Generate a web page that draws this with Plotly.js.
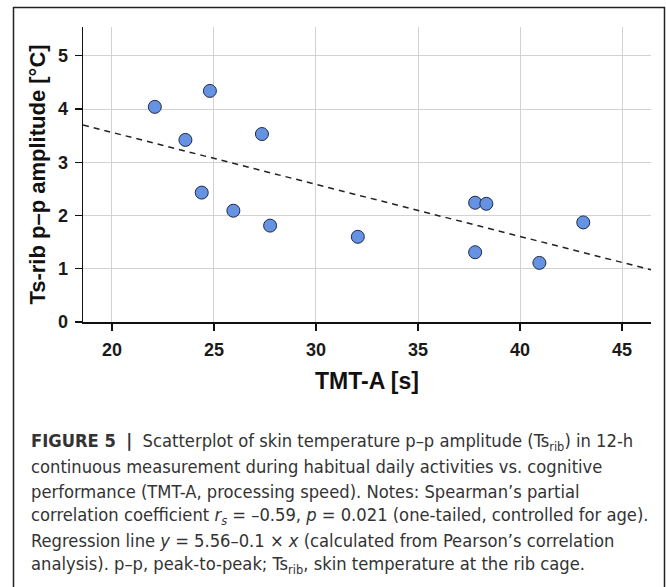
<!DOCTYPE html>
<html>
<head>
<meta charset="utf-8">
<script src="https://cdn.plot.ly/plotly-3.0.1.min.js"></script>
<style>
  html, body { margin: 0; padding: 0; background: #fff; }
  #chart { width: 666px; height: 587px; }
</style>
</head>
<body>
<div id="chart"></div>
<script>
// ---- data ----
const tmtA = [22.1, 24.8, 23.6, 27.35, 24.4, 25.95, 27.75, 32.05, 37.8, 38.35, 37.8, 40.95, 43.1];
const tsRibAmp = [4.04, 4.34, 3.42, 3.53, 2.43, 2.09, 1.81, 1.60, 2.24, 2.22, 1.31, 1.11, 1.87];
const regX = [18.58, 46.42];
const regY = [3.70, 0.98];
const xTicks = [20, 25, 30, 35, 40, 45];
const yTicks = [0, 1, 2, 3, 4, 5];
const xTitle = 'TMT-A [s]';
const yTitle = 'Ts-rib p\u2013p amplitude [\u00b0C]';
const captionLines = [
  '<b>FIGURE 5</b>  <b>|</b>  Scatterplot of skin temperature p\u2013p amplitude (Ts<sub>rib</sub>) in 12-h',
  'continuous measurement during habitual daily activities vs. cognitive',
  'performance (TMT-A, processing speed). Notes: Spearman\u2019s partial',
  'correlation coefficient <i>r<sub>s</sub></i> = \u20130.59, <i>p</i> = 0.021 (one-tailed, controlled for age).',
  'Regression line <i>y</i> = 5.56\u20130.1 \u00d7 <i>x</i> (calculated from Pearson\u2019s correlation',
  'analysis). p\u2013p, peak-to-peak; Ts<sub>rib</sub>, skin temperature at the rib cage.'
];

// ---- layout geometry (pixels) ----
const W = 666, H = 587;
const L = 83, R = 651, T = 27, B = 322;
const px2x = p => (p - L) / (R - L);
const px2y = p => (B - p) / (B - T);

const captionY = [442, 466.5, 491, 515.5, 540, 564.5];
const capFont = { family: 'DejaVu Sans Condensed, Liberation Sans Narrow, sans-serif', size: 18.2, color: '#333' };

const annotations = captionLines.map((t, i) => ({
  text: t, xref: 'paper', yref: 'paper', x: px2x(29), y: px2y(captionY[i]),
  xanchor: 'left', yanchor: 'middle', showarrow: false, align: 'left', font: capFont
}));

const traces = [
  {
    x: regX, y: regY, type: 'scatter', mode: 'lines',
    line: { color: '#222', width: 1.5, dash: '6px,5px' },
    hoverinfo: 'skip', showlegend: false
  },
  {
    x: tmtA, y: tsRibAmp, type: 'scatter', mode: 'markers',
    marker: { size: 13, color: '#6592e3', line: { color: '#1f2a44', width: 1 } },
    showlegend: false
  }
];

const tickFont = { family: 'Liberation Sans, Arial, sans-serif', size: 18, color: '#1a1a1a' };

const layout = {
  width: W, height: H,
  margin: { l: L, r: W - R, t: T, b: H - B },
  paper_bgcolor: '#fff', plot_bgcolor: '#fff',
  xaxis: {
    range: [18.58, 46.42], tickvals: xTicks, ticktext: xTicks.map(v => '<b>' + v + '</b>'),
    showgrid: true, gridcolor: '#d2d2d2', gridwidth: 1,
    showline: true, linecolor: '#111', linewidth: 1.5,
    ticks: 'outside', ticklen: 7, tickcolor: '#111', tickwidth: 1.2,
    ticklabelstandoff: 4,
    zeroline: false, tickfont: tickFont,
    title: { text: '<b>' + xTitle + '</b>', font: { family: 'Liberation Sans, Arial, sans-serif', size: 23, color: '#111' }, standoff: 14 },
    automargin: false
  },
  yaxis: {
    range: [0, 5.54], tickvals: yTicks, ticktext: yTicks.map(v => '<b>' + v + '</b>'),
    showgrid: true, gridcolor: '#d2d2d2', gridwidth: 1,
    showline: true, linecolor: '#111', linewidth: 1.5,
    ticks: 'outside', ticklen: 7, tickcolor: '#111', tickwidth: 1.2,
    ticklabelstandoff: 3,
    zeroline: false, tickfont: tickFont,
    title: { text: '<b>' + yTitle + '</b>', font: { family: 'Liberation Sans, Arial, sans-serif', size: 22, color: '#111' }, standoff: 6 },
    automargin: false
  },
  shapes: [{
    type: 'path', xref: 'paper', yref: 'paper',
    path: 'M ' + px2x(13.5) + ' ' + px2y(600) + ' L ' + px2x(13.5) + ' ' + px2y(7.5) +
          ' L ' + px2x(664.5) + ' ' + px2y(7.5) + ' L ' + px2x(664.5) + ' ' + px2y(600),
    line: { color: '#222', width: 1.5 }
  }],
  annotations: annotations,
  showlegend: false
};

Plotly.newPlot('chart', traces, layout, { displayModeBar: false, staticPlot: true });
</script>
</body>
</html>
